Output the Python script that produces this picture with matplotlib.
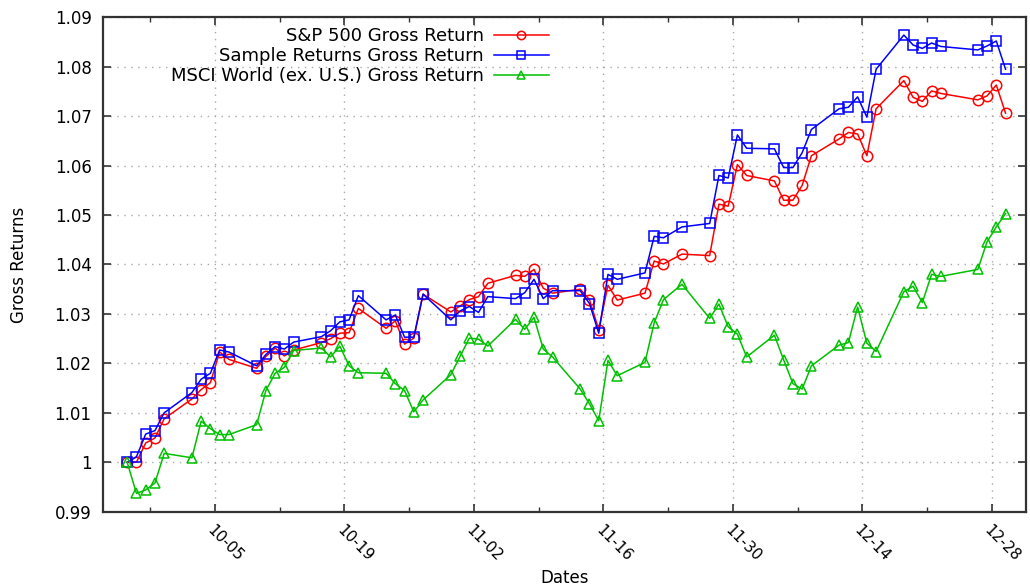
import matplotlib
matplotlib.use("Agg")
import matplotlib.pyplot as plt
import matplotlib.dates as mdates
import matplotlib.ticker as mticker
import pandas as pd

dates = [
    "2017-09-25", "2017-09-26", "2017-09-27", "2017-09-28", "2017-09-29",
    "2017-10-02", "2017-10-03", "2017-10-04", "2017-10-05", "2017-10-06",
    "2017-10-09", "2017-10-10", "2017-10-11", "2017-10-12", "2017-10-13",
    "2017-10-16", "2017-10-17", "2017-10-18", "2017-10-19", "2017-10-20",
    "2017-10-23", "2017-10-24", "2017-10-25", "2017-10-26", "2017-10-27",
    "2017-10-30", "2017-10-31", "2017-11-01", "2017-11-02", "2017-11-03",
    "2017-11-06", "2017-11-07", "2017-11-08", "2017-11-09", "2017-11-10",
    "2017-11-13", "2017-11-14", "2017-11-15", "2017-11-16", "2017-11-17",
    "2017-11-20", "2017-11-21", "2017-11-22", "2017-11-24",
    "2017-11-27", "2017-11-28", "2017-11-29", "2017-11-30", "2017-12-01",
    "2017-12-04", "2017-12-05", "2017-12-06", "2017-12-07", "2017-12-08",
    "2017-12-11", "2017-12-12", "2017-12-13", "2017-12-14", "2017-12-15",
    "2017-12-18", "2017-12-19", "2017-12-20", "2017-12-21", "2017-12-22",
    "2017-12-26", "2017-12-27", "2017-12-28", "2017-12-29",
]

sp500 = [
    1.0000, 1.0000, 1.0039, 1.0049, 1.0088,
    1.0128, 1.0147, 1.0161, 1.0223, 1.0208,
    1.0190, 1.0214, 1.0231, 1.0215, 1.0227,
    1.0242, 1.0250, 1.0261, 1.0262, 1.0311,
    1.0271, 1.0286, 1.0239, 1.0251, 1.0340,
    1.0304, 1.0316, 1.0329, 1.0335, 1.0362,
    1.0378, 1.0376, 1.0390, 1.0352, 1.0342,
    1.0350, 1.0329, 1.0268, 1.0358, 1.0328,
    1.0342, 1.0407, 1.0401, 1.0421,
    1.0418, 1.0522, 1.0518, 1.0602, 1.0580,
    1.0569, 1.0530, 1.0530, 1.0560, 1.0620,
    1.0654, 1.0667, 1.0664, 1.0620, 1.0715,
    1.0772, 1.0738, 1.0730, 1.0751, 1.0746,
    1.0733, 1.0741, 1.0763, 1.0706,
]

sample = [
    1.0000, 1.0011, 1.0057, 1.0064, 1.0100,
    1.0141, 1.0168, 1.0180, 1.0227, 1.0223,
    1.0195, 1.0218, 1.0234, 1.0229, 1.0243,
    1.0254, 1.0266, 1.0284, 1.0288, 1.0337,
    1.0288, 1.0298, 1.0253, 1.0253, 1.0340,
    1.0288, 1.0306, 1.0315, 1.0303, 1.0335,
    1.0331, 1.0343, 1.0370, 1.0331, 1.0347,
    1.0347, 1.0321, 1.0261, 1.0380, 1.0370,
    1.0383, 1.0457, 1.0454, 1.0476,
    1.0483, 1.0580, 1.0575, 1.0662, 1.0635,
    1.0634, 1.0596, 1.0596, 1.0626, 1.0673,
    1.0715, 1.0718, 1.0739, 1.0698, 1.0795,
    1.0864, 1.0844, 1.0837, 1.0848, 1.0841,
    1.0834, 1.0842, 1.0852, 1.0795,
]

msci = [
    1.0000, 0.9937, 0.9944, 0.9958, 1.0018,
    1.0009, 1.0083, 1.0068, 1.0056, 1.0056,
    1.0076, 1.0145, 1.0180, 1.0192, 1.0226,
    1.0231, 1.0213, 1.0235, 1.0195, 1.0181,
    1.0180, 1.0159, 1.0145, 1.0102, 1.0126,
    1.0177, 1.0214, 1.0251, 1.0249, 1.0235,
    1.0289, 1.0269, 1.0293, 1.0229, 1.0213,
    1.0148, 1.0118, 1.0084, 1.0206, 1.0175,
    1.0202, 1.0282, 1.0329, 1.0360,
    1.0291, 1.0320, 1.0274, 1.0259, 1.0213,
    1.0257, 1.0207, 1.0159, 1.0148, 1.0195,
    1.0237, 1.0242, 1.0314, 1.0241, 1.0224,
    1.0345, 1.0356, 1.0323, 1.0380, 1.0376,
    1.0390, 1.0446, 1.0476, 1.0503,
]

labels = ["S&P 500 Gross Return", "Sample Returns Gross Return",
          "MSCI World (ex. U.S.) Gross Return"]
major_ticks = ["2017-10-05", "2017-10-19", "2017-11-02", "2017-11-16",
               "2017-11-30", "2017-12-14", "2017-12-28"]
y_ticks = [0.99, 1.00, 1.01, 1.02, 1.03, 1.04, 1.05, 1.06, 1.07, 1.08, 1.09]

plt.rcParams["font.family"] = ["DejaVu Sans"]

x = pd.to_datetime(dates) + pd.Timedelta(hours=12)

fig = plt.figure(figsize=(10.30, 5.86), dpi=100)
ax = fig.add_axes([0.0997, 0.1268, 0.8964, 0.8437])

styles = [
    dict(color="#ff0000", marker="o"),
    dict(color="#0000ff", marker="s"),
    dict(color="#00c000", marker="^"),
]
for series, lab, st in zip([sp500, sample, msci], labels, styles):
    ax.plot(x, series, color=st["color"], marker=st["marker"], markersize=7.5,
            markerfacecolor="none", markeredgecolor=st["color"],
            markeredgewidth=1.1, linewidth=1.1, label=lab, zorder=3)

# axes limits
x0 = pd.Timestamp("2017-10-05") - pd.Timedelta(days=12.15)
x1 = pd.Timestamp("2017-12-28") + pd.Timedelta(days=3.71)
ax.set_xlim(x0, x1)
ax.set_ylim(0.99, 1.09)

maj = pd.to_datetime(major_ticks)
minor = [d - pd.Timedelta(days=7) for d in maj]
ax.xaxis.set_major_locator(mticker.FixedLocator(mdates.date2num(maj)))
ax.xaxis.set_minor_locator(mticker.FixedLocator(mdates.date2num(minor)))
ax.xaxis.set_major_formatter(mdates.DateFormatter("%m-%d"))
ax.yaxis.set_major_locator(mticker.FixedLocator(y_ticks))
ax.yaxis.set_major_formatter(mticker.FuncFormatter(lambda v, p: "%g" % round(v, 4)))

ax.tick_params(axis="both", which="major", direction="in", length=6, width=1.2,
               top=True, right=True, color="#333333")
ax.tick_params(axis="y", which="major", labelsize=12, pad=8)
ax.tick_params(axis="x", which="major", labelsize=11, pad=8)
ax.tick_params(axis="both", which="minor", direction="in", length=3.5, width=1.0,
               top=True, right=True, color="#333333")
for lab in ax.get_xticklabels():
    lab.set_rotation(-45)
    lab.set_rotation_mode("anchor")
    lab.set_ha("left")
    lab.set_va("top")

for sp in ax.spines.values():
    sp.set_color("#333333")
    sp.set_linewidth(1.6)

ax.grid(True, which="major", color="#a8a8a8", linestyle=(0, (1, 4)), linewidth=1.0)
ax.set_axisbelow(True)

ax.set_xlabel("Dates", fontsize=12, va="top")
ax.xaxis.set_label_coords(0.5, -0.116)
ax.set_ylabel("Gross Returns", fontsize=12, labelpad=19)

leg = ax.legend(loc="upper right", bbox_to_anchor=(549 / 1030, 1 - 27 / 586),
                bbox_transform=fig.transFigure, frameon=False, markerfirst=False,
                fontsize=13, handlelength=3.05, handletextpad=0.55,
                labelspacing=0.11, borderpad=0, borderaxespad=0, markerscale=0.8)

fig.savefig("out.png", dpi=100)
